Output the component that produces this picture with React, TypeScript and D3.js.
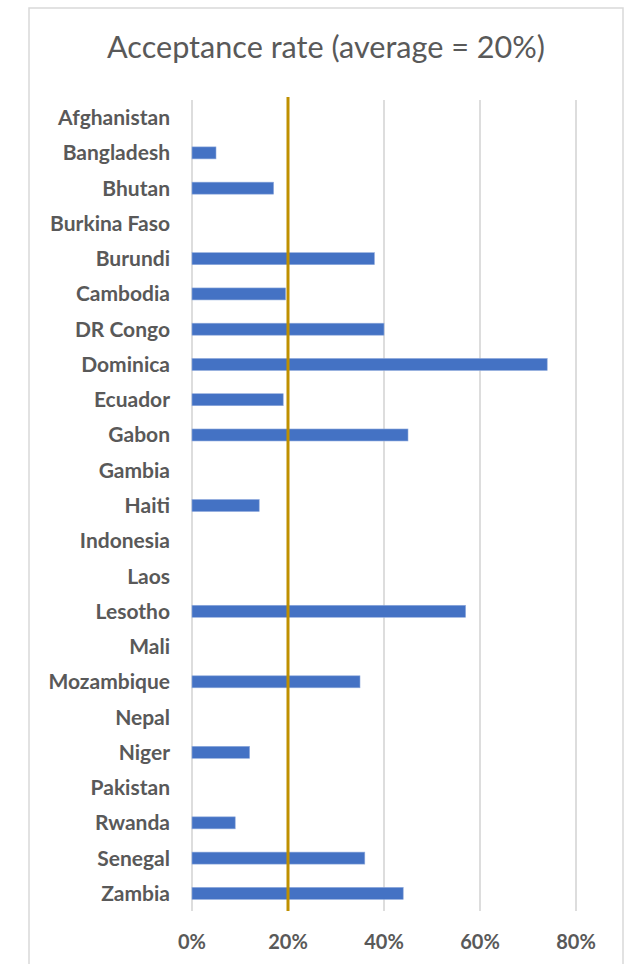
import React from "react";
import * as d3 from "d3";

// Countries listed top to bottom on the category axis
const countries: string[] = [
  "Afghanistan", "Bangladesh", "Bhutan", "Burkina Faso", "Burundi", "Cambodia",
  "DR Congo", "Dominica", "Ecuador", "Gabon", "Gambia", "Haiti", "Indonesia",
  "Laos", "Lesotho", "Mali", "Mozambique", "Nepal", "Niger", "Pakistan",
  "Rwanda", "Senegal", "Zambia",
];

// Acceptance rate per country, in percent
const rates: number[] = [
  0, 5, 17, 0, 38, 19.5,
  40, 74, 19, 45, 0, 14, 0,
  0, 57, 0, 35, 0, 12, 0,
  9, 36, 44,
];

const tickValues: number[] = [0, 20, 40, 60, 80];
const averageRate = 20;
const chartTitle = "Acceptance rate (average = 20%)";

const W = 628;
const H = 964;
const plot = { left: 192, right: 576, top: 100, bottom: 911 };

const FONT = "Lato, 'Open Sans', sans-serif";
const TEXT = "#595959";
const GRID = "#d9d9d9";
const BAR = "#4472c4";
const AVG = "#bf9000";

export default function App() {
  const x = d3.scaleLinear().domain([0, 80]).range([plot.left, plot.right]);
  const y = d3
    .scaleBand<string>()
    .domain(countries)
    .range([plot.top, plot.bottom])
    .paddingInner(0.66)
    .paddingOuter(0.33);

  const data = countries.map((c, i) => ({ country: c, rate: rates[i] }));

  return (
    <div style={{ position: "absolute", left: 0, top: 0 }}>
      <svg width={W} height={H} style={{ display: "block", background: "#fff" }}>
        {/* chart frame */}
        <rect x={29} y={8} width={594} height={H} fill="#fff" stroke={GRID} strokeWidth={1.5} />

        <text
          x={326}
          y={58}
          textAnchor="middle"
          fontFamily={FONT}
          fontWeight={400}
          fontSize={30.6}
          fill={TEXT}
        >
          {chartTitle}
        </text>

        {/* vertical gridlines */}
        {tickValues.map((t) => (
          <line
            key={`g${t}`}
            x1={x(t)}
            x2={x(t)}
            y1={plot.top}
            y2={plot.bottom}
            stroke={GRID}
            strokeWidth={1.75}
          />
        ))}

        {/* bars */}
        {data.map((d) =>
          d.rate > 0 ? (
            <rect
              key={d.country}
              x={x(0)}
              y={y(d.country)!}
              width={x(d.rate) - x(0)}
              height={y.bandwidth()}
              fill={BAR}
              stroke="#8faadc"
              strokeWidth={0.6}
            />
          ) : null
        )}

        {/* average line */}
        <line
          x1={x(averageRate)}
          x2={x(averageRate)}
          y1={plot.top - 3}
          y2={plot.bottom}
          stroke={AVG}
          strokeWidth={3}
        />

        {/* category labels */}
        {countries.map((c) => (
          <text
            key={`l${c}`}
            x={170}
            y={y(c)! + y.bandwidth() / 2 - 1}
            textAnchor="end"
            dominantBaseline="central"
            fontFamily={FONT}
            fontWeight={700}
            fontSize={21}
            fill={TEXT}
          >
            {c}
          </text>
        ))}

        {/* value axis labels */}
        {tickValues.map((t) => (
          <text
            key={`t${t}`}
            x={x(t)}
            y={941}
            textAnchor="middle"
            dominantBaseline="central"
            fontFamily={FONT}
            fontWeight={700}
            fontSize={20}
            fill={TEXT}
          >
            {d3.format(".0%")(t / 100)}
          </text>
        ))}
      </svg>
    </div>
  );
}
